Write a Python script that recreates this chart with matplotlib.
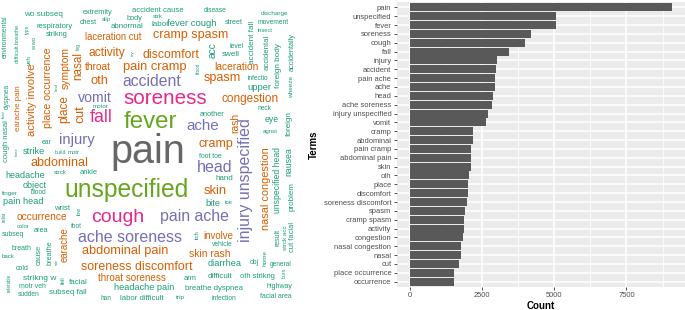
import matplotlib
matplotlib.use("Agg")
import matplotlib.pyplot as plt

plt.rcParams['font.family'] = ['Liberation Sans', 'DejaVu Sans']

# bar chart data (top to bottom)
terms = ["pain", "unspecified", "fever", "soreness", "cough", "fall", "injury",
         "accident", "pain ache", "ache", "head", "ache soreness",
         "injury unspecified", "vomit", "cramp", "abdominal", "pain cramp",
         "abdominal pain", "skin", "oth", "place", "discomfort",
         "soreness discomfort", "spasm", "cramp spasm", "activity", "congestion",
         "nasal congestion", "nasal", "cut", "place occurrence", "occurrence"]
counts = [9070, 5050, 5050, 4190, 3980, 3430, 3010, 2980, 2940, 2940, 2880,
          2860, 2710, 2640, 2190, 2190, 2130, 2130, 2110, 2050, 2030, 2030,
          1970, 1910, 1880, 1880, 1840, 1770, 1770, 1710, 1530, 1530]
xticks = [0, 2500, 5000, 7500]

# word cloud: words and their frequency tier (0 = rarest ... 5 = most frequent)
cloud_words = [
    "pain", "fever", "unspecified", "soreness", "cough", "fall",
    "accident", "vomit", "injury", "pain ache", "ache soreness", "ache", "head",
    "injury unspecified",
    "laceration cut", "cramp spasm", "activity", "discomfort", "symptom", "nasal",
    "throat", "pain cramp", "activity involve", "place occurrence", "earache pain",
    "oth", "place", "cut", "abdominal", "occurrence", "earache", "abdominal pain",
    "soreness discomfort", "throat soreness", "skin rash", "involve", "skin",
    "nasal congestion", "rash", "congestion", "spasm", "laceration", "cramp",
    "wo subseq", "extremity", "accident cause", "slip", "body", "strk",
    "fever cough", "respiratory", "chest", "abnormal", "labor", "environmental",
    "type", "strikng", "w wo", "difficult breathe", "veh", "leg", "cry", "blood",
    "dyspnea", "motor", "food", "cough nasal", "knee", "ear", "strike", "build",
    "motr", "headache", "strck", "ankle", "object", "finger", "blood", "pain head",
    "wrist", "low", "relat", "color", "foot", "subseq", "area", "breath", "cause",
    "breathe", "back", "site", "cold", "referable", "strikng w", "fell", "facial",
    "motr veh", "sudden", "subseq fall", "headache pain", "han", "labor difficult",
    "trip", "arm", "breathe dyspnea", "infection", "difficult", "oth strikng",
    "highway", "facial area", "diarrhea", "obj", "home", "general", "burn",
    "vehicle", "itch", "bite", "toe", "hand", "foot toe", "unspecified head",
    "nausea", "problem", "result", "strck acc", "cut facial", "infectio", "upper",
    "acc", "level", "swell", "accident fall", "accidental", "foreign body",
    "accidentally", "wheeze", "disease", "discharge", "street", "movement",
    "insect", "neck", "another", "eye", "foreign", "agnst", "kind",
]
cloud_tiers = ([5, 4, 4, 3, 3, 3] + [2] * 8 + [1] * 29
               + [0] * (len(cloud_words) - 43))

tier_colors = ["#1B9E77", "#D95F02", "#7570B3", "#E7298A", "#66A61E", "#666666"]

# word placement in pixels: centre x, centre y, length along text, rotation
cloud_layout = [
    (148, 152, 75, 0), (150, 122, 54, 0), (127, 190, 125, 0), (165, 99, 84, 0),
    (118, 217, 53, 0), (101, 118, 23, 0),
    (152, 82, 59, 0), (95, 98, 34, 0), (77, 140, 36, 0), (194, 217, 69, 0),
    (130, 238, 104, 0), (203, 126, 33, 0), (215, 167, 36, 0), (246, 180, 124, 90),
    (113, 37, 57, 0), (191, 35, 75, 0), (107, 53, 37, 0), (171, 55, 57, 0),
    (66, 68, 42, 90), (78, 66, 28, 90),
    (98, 67, 26, 0), (155, 67, 64, 0), (32, 100, 72, 90), (48, 88, 80, 90),
    (19, 108, 46, 90),
    (99, 81, 18, 0), (64, 109, 28, 90), (80, 114, 18, 90), (59, 163, 58, 0),
    (42, 217, 51, 0), (65, 245, 35, 90), (125, 251, 87, 0),
    (137, 267, 111, 0), (132, 278, 68, 0), (210, 254, 41, 0), (218, 236, 30, 0),
    (215, 191, 23, 0),
    (266, 189, 83, 90), (235, 123, 20, 90), (250, 99, 57, 0), (222, 78, 37, 0),
    (236, 67, 45, 0), (216, 144, 35, 0),
    (43, 15, 39, 0), (98, 12, 30, 0), (158, 11, 51, 0), (106, 19, 9, 0),
    (134, 18, 16, 0), (158, 17, 10, 0),
    (192, 23, 50, 0), (55, 26, 36, 0), (88, 23, 17, 0), (127, 27, 33, 0),
    (160, 25, 18, 0), (5, 37, 43, 90),
    (27, 29, 9, 90), (57, 34, 22, 0), (35, 43, 13, 90), (18, 44, 38, 90),
    (29, 60, 10, 90), (78, 46, 7, 90), (133, 53, 6, 90), (198, 68, 11, 90),
    (7, 96, 25, 90), (101, 107, 16, 0), (4, 114, 8, 90), (7, 141, 42, 90),
    (17, 152, 9, 90), (47, 142, 10, 0), (34, 152, 22, 0), (60, 153, 11, 0),
    (74, 153, 12, 0), (25, 176, 40, 0), (60, 173, 13, 0), (89, 173, 18, 0),
    (35, 185, 24, 0), (10, 193, 16, 0), (39, 193, 16, 0), (23, 202, 40, 0),
    (62, 208, 16, 0), (79, 211, 8, 90), (4, 217, 10, 90), (23, 227, 13, 0),
    (76, 226, 11, 0), (13, 235, 22, 0), (41, 230, 15, 0), (22, 249, 20, 0),
    (39, 255, 20, 90),
    (50, 253, 25, 90), (8, 257, 13, 0), (57, 262, 6, 90), (22, 269, 13, 0),
    (9, 283, 18, 90), (40, 278, 33, 0), (63, 280, 8, 90), (78, 282, 19, 0),
    (32, 287, 27, 0), (29, 295, 22, 0), (68, 292, 38, 0), (144, 287, 60, 0),
    (106, 298, 11, 0), (142, 298, 44, 0),
    (180, 297, 9, 0), (190, 278, 13, 0), (214, 288, 58, 0), (224, 298, 25, 0),
    (220, 277, 25, 0), (257, 277, 35, 0),
    (279, 287, 26, 0), (276, 297, 32, 0), (225, 264, 34, 0), (254, 263, 9, 0),
    (265, 258, 16, 90), (281, 264, 22, 0), (284, 273, 10, 90),
    (222, 244, 21, 0), (197, 235, 9, 90), (213, 204, 15, 0), (229, 203, 8, 0),
    (224, 179, 18, 0), (210, 156, 23, 0), (278, 180, 66, 90),
    (289, 162, 29, 90), (292, 197, 29, 90), (278, 238, 17, 90), (286, 238, 25, 90),
    (293, 237, 30, 90), (258, 79, 21, 0), (259, 87, 24, 0),
    (213, 50, 16, 90), (237, 47, 14, 0), (231, 55, 18, 0), (253, 42, 43, 90),
    (267, 52, 35, 90), (279, 66, 45, 90),
    (292, 52, 39, 90), (292, 87, 22, 90), (215, 11, 23, 0), (275, 14, 28, 0),
    (234, 23, 18, 0), (273, 23, 31, 0),
    (265, 30, 15, 0), (265, 109, 14, 0), (212, 114, 25, 0), (272, 119, 14, 0),
    (289, 124, 25, 90), (270, 131, 15, 0), (57, 87, 8, 90),
]

W, H = 685, 310
fig = plt.figure(figsize=(W / 100, H / 100), dpi=100)

# ---- word cloud (left) ----
axw = fig.add_axes([0, 0, 1, 1])
axw.set_xlim(0, W)
axw.set_ylim(H, 0)
axw.axis('off')
renderer = fig.canvas.get_renderer()
for word, tier, (x, y, span, rot) in zip(cloud_words, cloud_tiers, cloud_layout):
    t = axw.text(x, y, word, fontsize=10, color=tier_colors[tier],
                 ha='center', va='center')
    w = t.get_window_extent(renderer).width
    t.set_fontsize(10 * span / w)
    t.set_rotation(rot)

# ---- bar chart (right) ----
left, right, top, bottom = 396.5, 685, 2, 287
ax = fig.add_axes([left / W, 1 - bottom / H, (right - left) / W, (bottom - top) / H])
ax.set_facecolor('#EBEBEB')
pos = list(range(len(terms)))
ax.barh(pos, counts, height=0.9, color='#595959', zorder=2)
ax.set_yticks(pos)
ax.set_yticklabels(terms)
ax.set_ylim(len(terms) - 0.4, -0.6)
ax.set_xlim(-0.05 * max(counts), 1.05 * max(counts))
ax.set_xticks(xticks)
ax.set_xticklabels([str(v) for v in xticks])
ax.set_xticks([1250, 3750, 6250, 8750], minor=True)
ax.grid(which='major', color='white', linewidth=1.1, zorder=1)
ax.grid(which='minor', axis='x', color='white', linewidth=0.55, zorder=1)
ax.set_axisbelow(True)
for s in ax.spines.values():
    s.set_visible(False)
ax.tick_params(which='major', length=2.2, width=0.6, color='#333333',
               labelsize=5.4, labelcolor='#4D4D4D', pad=1.5)
ax.tick_params(which='minor', length=0)
ax.set_xlabel('Count', fontsize=7, fontweight='bold', labelpad=1.5)
ax.set_ylabel('Terms', fontsize=7, fontweight='bold')
ax.yaxis.set_label_coords(-0.27, 0.5)

fig.savefig('out.png', dpi=100)
